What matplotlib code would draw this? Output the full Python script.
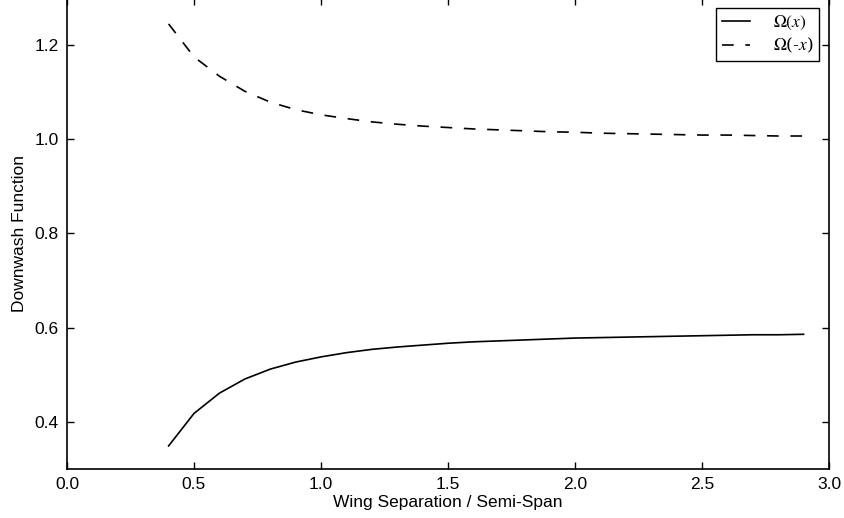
import matplotlib
matplotlib.use("Agg")
import matplotlib.pyplot as plt
from matplotlib.ticker import MultipleLocator

x_sep = [0.4, 0.5, 0.6, 0.7, 0.8, 0.9, 1.0, 1.1, 1.2, 1.3, 1.4, 1.5, 1.6,
         1.7, 1.8, 1.9, 2.0, 2.1, 2.2, 2.3, 2.4, 2.5, 2.6, 2.7, 2.8, 2.9]
omega_pos = [0.349, 0.418, 0.461, 0.491, 0.512, 0.527, 0.538, 0.547, 0.554,
             0.559, 0.563, 0.567, 0.570, 0.572, 0.574, 0.576, 0.578, 0.579,
             0.580, 0.581, 0.582, 0.583, 0.584, 0.585, 0.585, 0.586]
omega_neg = [1.245, 1.175, 1.134, 1.102, 1.079, 1.063, 1.052, 1.044, 1.037,
             1.032, 1.028, 1.025, 1.022, 1.020, 1.018, 1.016, 1.015, 1.013,
             1.012, 1.011, 1.010, 1.009, 1.009, 1.008, 1.007, 1.007]

plt.rcParams['font.family'] = ['Liberation Sans', 'DejaVu Sans']
plt.rcParams['mathtext.fontset'] = 'stix'

fig = plt.figure(figsize=(8.44, 5.18), dpi=100)
ax = fig.add_axes([67/844, 1 - 469/518, (829 - 67)/844, (469 + 2)/518])

ax.plot(x_sep, omega_pos, color='black', lw=1.2, label=r'$\Omega(x)$')
ax.plot(x_sep, omega_neg, color='black', lw=1.2, dashes=(7, 7), label=r'$\Omega$(-$x$)')

ax.set_xlim(0.0, 3.0)
ax.set_ylim(0.3, 1.3)
ax.xaxis.set_major_locator(MultipleLocator(0.5))
ax.set_yticks([0.4, 0.6, 0.8, 1.0, 1.2])
ax.tick_params(direction='in', top=True, right=True, length=5, width=1,
               labelsize=12.5, pad=6)
for s in ax.spines.values():
    s.set_linewidth(1.2)

ax.set_xlabel('Wing Separation / Semi-Span', fontsize=12.5, labelpad=2)
ax.set_ylabel('Downwash Function', fontsize=12.5, labelpad=5)

leg = ax.legend(loc='upper right', borderaxespad=0.55, fancybox=False,
                edgecolor='black', framealpha=1, handlelength=1.6,
                prop={'family': 'serif', 'size': 12.5}, borderpad=0.35,
                labelspacing=0.25, handletextpad=1.3)
leg.get_frame().set_linewidth(1.0)

fig.savefig('out.png', dpi=100)
